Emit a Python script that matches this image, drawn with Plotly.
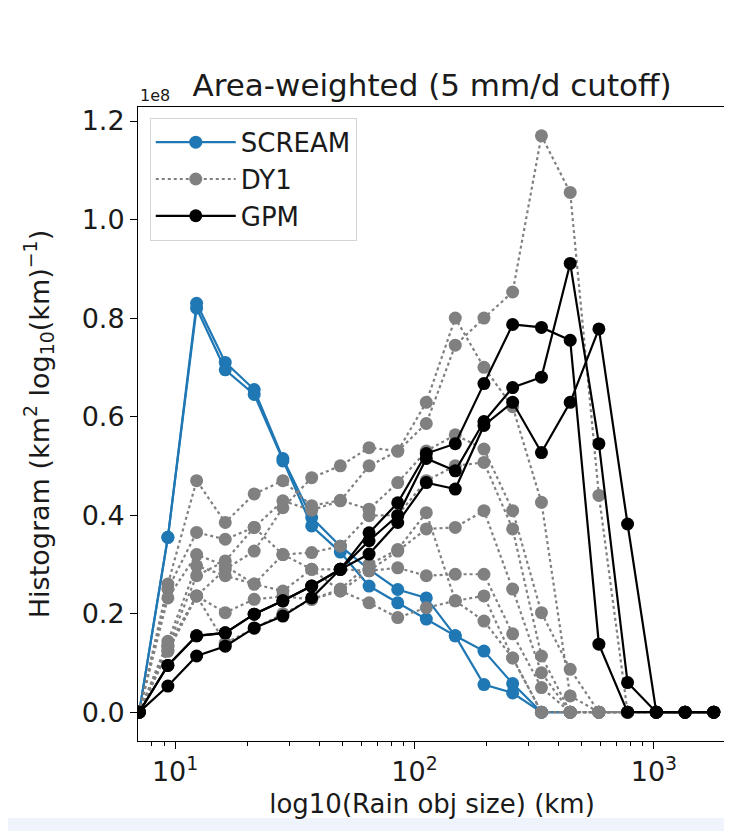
import math
import plotly.graph_objects as go

# ---------------- data (values in units of 1e8) ----------------
sizes_km = [7.08, 9.33, 12.3, 16.2, 21.4, 28.2, 37.2, 49.0, 64.6, 85.1, 112,
            148, 195, 257, 339, 447, 589, 776, 1023, 1349, 1778]

scream_a = [0, 0.355, 0.83, 0.71, 0.655, 0.515, 0.395, 0.337, 0.29, 0.249,
            0.232, 0.155, 0.124, 0.058, 0, 0, None, None, None, None, None]
scream_b = [0, 0.355, 0.82, 0.695, 0.645, 0.51, 0.378, 0.325, 0.256, 0.222,
            0.189, 0.155, 0.056, 0.039, 0, 0, None, None, None, None, None]

dy1_1 = [0, 0.124, 0.236, 0.29, 0.327, 0.415, 0.476, 0.50, 0.537, 0.53, 0.586,
         0.745, 0.80, 0.853, 1.17, 1.055, 0.44, 0, 0, 0, 0]
dy1_2 = [0, 0.134, 0.277, 0.307, 0.375, 0.429, 0.41, 0.429, 0.50, 0.53, 0.629,
         0.80, 0.70, 0.62, 0.426, 0.033, 0, 0, 0, 0, 0]
dy1_3 = [0, 0.26, 0.47, 0.385, 0.443, 0.47, 0.419, 0.43, 0.412, 0.466, 0.53,
         0.563, 0.534, 0.409, 0.202, 0.087, 0, 0, 0, 0, 0]
dy1_4 = [0, 0.25, 0.365, 0.351, 0.375, 0.32, 0.324, 0.337, 0.399, 0.40, 0.47,
         0.50, 0.507, 0.372, 0.114, 0, 0, 0, 0, 0, 0]
dy1_5 = [0, 0.232, 0.32, 0.297, 0.26, 0.32, 0.29, 0.29, 0.287, 0.327, 0.372,
         0.375, 0.409, 0.25, 0.08, 0, 0, 0, 0, 0, 0]
dy1_6 = [0, 0.144, 0.297, 0.277, 0.26, 0.246, 0.29, 0.246, 0.287, 0.293, 0.277,
         0.28, 0.28, 0.159, 0.05, 0, 0, 0, 0, 0, 0]
dy1_7 = [0, 0.134, 0.236, 0.202, 0.229, 0.235, 0.229, 0.246, 0.222, 0.192,
         0.212, 0.226, 0.236, 0.11, 0, 0, 0, 0, 0, 0, 0]
dy1_8 = [0, 0.124, 0.236, 0.14, 0.17, 0.2, 0.229, 0.25, 0.3, 0.33, 0.405,
         0.226, 0.185, 0.11, 0, 0, 0, 0, 0, 0, 0]

gpm_a = [0, 0.095, 0.155, 0.161, 0.199, 0.226, 0.256, 0.29, 0.364, 0.425, 0.525,
         0.545, 0.667, 0.787, 0.781, 0.755, 0.138, 0, 0, 0, 0]
gpm_b = [0, 0.095, 0.155, 0.161, 0.199, 0.226, 0.256, 0.29, 0.348, 0.399, 0.515,
         0.49, 0.59, 0.659, 0.68, 0.911, 0.545, 0.06, 0, 0, 0]
gpm_c = [0, 0.053, 0.114, 0.134, 0.171, 0.195, 0.232, 0.29, 0.321, 0.385, 0.466,
         0.453, 0.582, 0.629, 0.527, 0.629, 0.778, 0.382, 0, 0, 0]

y_ticks = [0.0, 0.2, 0.4, 0.6, 0.8, 1.0, 1.2]
x_ticks = [10, 100, 1000]
x_tick_labels = ["10<sup>1</sup>", "10<sup>2</sup>", "10<sup>3</sup>"]

# ---------------- figure ----------------
FONT = "DejaVu Sans"
TXT = "#1a1a1a"
OFF = 8  # page body margin offset in the screenshot
fig = go.Figure()

groups = [
    ("SCREAM", [scream_a, scream_b], "#1f77b4", "solid"),
    ("DY1", [dy1_1, dy1_2, dy1_3, dy1_4, dy1_5, dy1_6, dy1_7, dy1_8], "#808080", "dot"),
    ("GPM", [gpm_a, gpm_b, gpm_c], "black", "solid"),
]
for name, runs, color, dash in groups:
    for i, run in enumerate(runs):
        fig.add_trace(go.Scatter(
            x=sizes_km, y=run, mode="lines+markers", name=name,
            legendgroup=name, showlegend=(i == 0),
            line=dict(color=color, width=2.2, dash=dash),
            marker=dict(color=color, size=13, line=dict(width=0)),
            connectgaps=False,
        ))

minor_vals = [8, 9] + [v * 10 for v in range(2, 10)] + [v * 100 for v in range(2, 10)] + [2000]

fig.update_layout(
    width=732, height=831,
    margin=dict(l=138 - OFF, r=14, t=107 - OFF, b=98),
    paper_bgcolor="white", plot_bgcolor="white",
    font=dict(family=FONT, size=26, color=TXT),
    title=dict(text="Area-weighted (5 mm/d cutoff)", xref="paper", x=0.5,
               xanchor="center", yref="container", y=1 - (85 - OFF) / 831,
               yanchor="middle",
               font=dict(family=FONT, size=31, color=TXT)),
    showlegend=True,
    legend=dict(x=0.02, y=0.983, xanchor="left", yanchor="top",
                bgcolor="rgba(255,255,255,0.85)", bordercolor="#d4d4d4", borderwidth=1,
                font=dict(family=FONT, size=26, color=TXT),
                itemwidth=80, tracegroupgap=0),
    xaxis=dict(type="log", range=[math.log10(7), math.log10(2000)],
               tickvals=x_ticks, ticktext=x_tick_labels,
               ticks="outside", ticklen=7, tickwidth=1, tickcolor="black",
               showline=True, linecolor="black", linewidth=1, mirror=True,
               showgrid=False, zeroline=False,
               tickfont=dict(family=FONT, size=27, color=TXT),
               minor=dict(tickvals=minor_vals, ticks="outside", ticklen=4,
                          tickcolor="black", tickwidth=1, showgrid=False),
               title=dict(text="log10(Rain obj size) (km)", standoff=8,
                          font=dict(family=FONT, size=26, color=TXT))),
    yaxis=dict(range=[-0.0585, 1.2285], tickvals=y_ticks,
               ticktext=[f"{v:.1f}" for v in y_ticks],
               ticks="outside", ticklen=7, tickwidth=1, tickcolor="black",
               showline=True, linecolor="black", linewidth=1, mirror=True,
               showgrid=False, zeroline=False,
               tickfont=dict(family=FONT, size=27, color=TXT),
               title=dict(text="Histogram (km<sup>2</sup> log<sub>10</sub>(km)<sup>\u22121</sup>)",
                          standoff=24,
                          font=dict(family=FONT, size=27, color=TXT))),
    annotations=[dict(text="1e8", xref="paper", yref="paper", x=0.0, y=1.018,
                      xanchor="left", yanchor="middle", showarrow=False,
                      font=dict(family=FONT, size=16, color=TXT))],
    shapes=[dict(type="rect", xref="paper", yref="paper", x0=-0.3, x1=1.1,
                 y0=-0.2, y1=(741 - 818) / 634, fillcolor="#eef3fc",
                 line=dict(width=0), layer="below")],
)

fig.write_html("out.html")
